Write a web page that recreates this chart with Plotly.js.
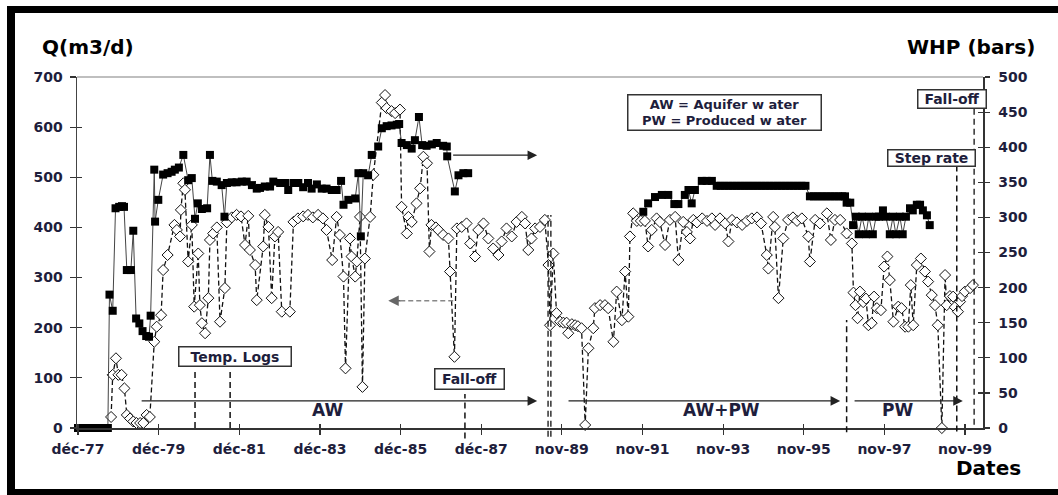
<!DOCTYPE html>
<html><head><meta charset="utf-8">
<script src="https://cdn.plot.ly/plotly-3.0.1.min.js"></script>
<style>
html,body{margin:0;padding:0;background:#fff;overflow:hidden;width:1058px;height:495px;}
#frame{position:absolute;left:7px;top:6px;right:0;bottom:0;border-style:solid;border-color:#000;border-width:7px 0 6px 8px;box-sizing:border-box;}
#chart{position:absolute;left:0;top:0;width:1058px;height:495px;}
</style></head><body>
<div id="frame"></div><div id="chart"></div>
<script>
// ---- tick labels (dates axis) ----
const tickLabels = ['déc-77','déc-79','déc-81','déc-83','déc-85','déc-87','nov-89','nov-91','nov-93','nov-95','nov-97','nov-99'];
const tickStartYear = 1977.92;          // 3 Dec 1977
const tickStepYears = 730 / 365.25;     // 730-day major unit

// ---- WHP (bars), filled squares, right axis ----
const whpYears = [1977.92,1978.00,1978.08,1978.17,1978.25,1978.33,1978.42,1978.50,1978.58,1978.66,
 1978.70,1978.78,1978.85,1978.94,1979.01,1979.06,1979.13,1979.23,1979.29,1979.36,1979.44,1979.52,1979.61,1979.68,1979.72,
 1979.81,1979.83,1979.91,1980.03,1980.14,1980.24,1980.32,1980.42,1980.53,1980.65,1980.74,1980.82,1980.89,1980.99,1981.12,
 1981.19,1981.25,1981.36,1981.48,1981.55,1981.61,1981.73,1981.85,1981.98,1982.10,1982.23,1982.35,1982.43,1982.55,1982.68,
 1982.76,1982.93,1983.05,1983.13,1983.26,1983.38,1983.50,1983.62,1983.71,1983.84,1983.96,1984.08,1984.21,1984.33,1984.44,
 1984.50,1984.62,1984.79,1984.87,1984.93,1984.99,1985.11,1985.20,1985.36,1985.45,1985.57,1985.69,1985.82,1985.88,1985.94,
 1986.07,1986.19,1986.27,1986.37,1986.45,1986.56,1986.69,1986.81,1986.97,1987.06,1987.07,1987.26,1987.35,1987.47,1987.59,
 1989.50,
 1991.93,1992.05,1992.22,1992.39,1992.55,1992.70,1992.80,1992.96,1993.05,1993.13,1993.21,1993.38,1993.50,1993.63,1993.75,
 1993.85,1993.95,1994.05,1994.15,1994.25,1994.35,1994.45,1994.55,1994.65,1994.75,1994.85,1994.95,1995.05,1995.15,1995.25,
 1995.35,1995.45,1995.55,1995.65,1995.75,1995.85,1995.95,
 1996.06,1996.16,1996.26,1996.36,1996.46,1996.56,1996.66,1996.76,1996.86,1996.93,1996.97,1997.06,1997.13,
 1997.20,1997.27,1997.35,1997.45,1997.52,1997.62,1997.70,1997.77,1997.87,1997.94,1998.04,1998.12,1998.19,1998.29,1998.36,
 1998.44,1998.54,1998.61,1998.71,1998.79,1998.86,1998.96,1999.03];
const whpBars = [0,0,0,0,0,0,0,0,0,0,
 190,167,313,315,316,315,225,225,281,156,149,138,131,130,160,
 368,294,325,361,363,365,368,371,389,353,356,298,320,312,313,
 389,352,351,346,301,349,350,350,351,351,346,341,342,344,344,
 351,349,349,339,349,349,343,349,341,347,341,341,339,339,352,
 318,325,327,363,273,363,360,389,401,427,430,431,432,433,406,
 403,398,410,443,403,402,404,406,402,401,387,337,360,363,363,
 null,
 308,320,329,332,332,319,319,332,339,320,339,352,352,352,345,
 345,345,345,345,345,345,345,345,345,345,345,345,345,345,345,
 345,345,345,345,345,345,345,
 330,330,330,330,330,330,330,330,330,330,321,321,289,
 301,276,301,276,301,276,301,301,310,301,276,301,276,301,276,
 301,313,310,318,318,310,303,289];

// ---- Q (m3/d), open diamonds, left axis ----
const qYears = [1978.74,1978.78,1978.86,1978.92,1979.00,1979.07,1979.13,1979.21,1979.29,1979.37,1979.46,1979.54,1979.62,1979.70,
 1979.81,1979.87,1979.98,1980.03,1980.14,1980.31,1980.37,1980.45,1980.47,1980.53,1980.57,1980.65,1980.74,1980.80,1980.90,
 1980.94,1980.99,1981.07,1981.15,1981.19,1981.27,1981.36,1981.44,1981.56,1981.61,1981.73,1981.85,1981.96,1982.06,1982.14,
 1982.18,1982.31,1982.35,1982.51,1982.55,1982.64,1982.72,1982.80,1982.88,1982.97,1983.17,1983.26,1983.37,1983.50,1983.62,
 1983.74,1983.87,1983.99,1984.08,1984.22,1984.33,1984.41,1984.50,1984.55,1984.66,1984.70,1984.79,1984.83,1984.91,1984.97,
 1985.03,1985.16,1985.24,1985.45,1985.53,1985.57,1985.69,1985.78,1985.90,1985.94,1986.07,1986.11,1986.19,1986.31,1986.40,
 1986.48,1986.57,1986.63,1986.68,1986.79,1986.85,1986.97,1987.10,1987.14,1987.25,1987.31,1987.43,1987.55,1987.64,1987.76,
 1987.84,1987.97,1988.09,1988.21,1988.34,1988.42,1988.54,1988.67,1988.79,1988.92,1989.00,1989.08,1989.16,1989.25,1989.37,
 1989.49,1989.58,1989.62,1989.70,1989.78,1989.87,1989.95,1990.03,1990.07,1990.16,1990.24,1990.31,1990.40,1990.49,1990.57,
 1990.69,1990.73,1990.86,1990.98,1991.06,1991.19,1991.27,1991.40,1991.48,1991.56,1991.60,1991.68,1991.77,1991.87,1991.97,
 1992.05,1992.14,1992.26,1992.34,1992.47,1992.59,1992.72,1992.80,1992.92,1993.01,1993.09,1993.17,1993.26,1993.39,1993.51,
 1993.63,1993.71,1993.83,1993.96,1994.04,1994.13,1994.25,1994.38,1994.50,1994.62,1994.75,1994.85,1994.99,1995.03,1995.15,
 1995.19,1995.28,1995.40,1995.52,1995.64,1995.74,1995.86,1996.02,1996.06,1996.19,1996.31,1996.48,1996.58,1996.68,1996.81,
 1996.97,1997.10,1997.14,1997.19,1997.24,1997.30,1997.38,1997.45,1997.51,1997.59,1997.65,1997.72,1997.82,1997.90,1997.98,
 1998.04,1998.13,1998.25,1998.33,1998.42,1998.50,1998.56,1998.62,1998.71,1998.81,1998.91,1998.99,1999.08,1999.16,1999.23,
 1999.33,1999.41,1999.45,1999.53,1999.61,1999.65,1999.73,1999.78,1999.83,1999.90,2000.03,2000.10];
const qRates = [22,106,139,106,106,79,26,19,13,10,10,10,26,22,
 172,202,225,315,345,405,395,382,435,488,475,332,405,242,348,
 245,209,189,259,375,388,400,212,279,410,420,425,422,365,423,
 355,325,255,362,425,401,259,382,391,232,232,411,418,422,425,
 420,425,418,395,335,421,385,302,119,378,342,302,332,421,82,
 338,421,505,649,664,638,632,628,635,441,388,421,411,448,478,
 541,528,352,405,400,395,385,378,312,142,398,401,408,368,342,
 395,408,378,358,345,372,398,382,411,421,408,355,378,398,401,
 415,325,205,348,229,212,210,210,189,207,205,203,199,6,159,
 199,239,245,245,239,172,272,215,312,222,382,428,413,413,413,
 362,395,418,411,365,415,421,335,411,391,378,415,410,418,413,
 418,405,418,408,372,415,410,405,413,418,420,408,345,318,421,
 401,259,378,415,420,413,418,382,332,415,408,428,375,415,415,
 388,368,270,245,219,272,251,258,205,209,262,239,235,322,342,
 295,212,242,239,202,202,285,205,325,338,312,292,265,245,205,
 0,305,245,263,262,241,232,252,263,272,279,285];

const FONT = 'DejaVu Sans';
const INK = '#1e1e3c';
const tickVals = tickLabels.map((_, i) => tickStartYear + i * tickStepYears);
const xRange = [1977.895, 2000.35];

const traces = [
  {x: qYears, y: qRates, xaxis: 'x', yaxis: 'y', type: 'scatter', mode: 'lines+markers', cliponaxis: false,
   line: {color: '#111', width: 1.3, dash: '5px,3px'},
   marker: {symbol: 'diamond', size: 8.5, color: '#fff', line: {color: '#111', width: 1}}, hoverinfo: 'skip'},
  {x: whpYears, y: whpBars, xaxis: 'x', yaxis: 'y2', type: 'scatter', mode: 'lines+markers', cliponaxis: false,
   connectgaps: false,
   line: {color: '#444', width: 1},
   marker: {symbol: 'square', size: 8, color: '#000', line: {width: 0}}, hoverinfo: 'skip'},
  {x: [], y: [], xaxis: 'x2', yaxis: 'y', type: 'scatter', hoverinfo: 'skip'},
  {x: [], y: [], xaxis: 'x', yaxis: 'y3', type: 'scatter', hoverinfo: 'skip'},
  {x: [], y: [], xaxis: 'x', yaxis: 'y4', type: 'scatter', hoverinfo: 'skip'}
];

const tickFont = {family: FONT, size: 14, color: INK, weight: 'bold'};
const layout = {
  width: 1058, height: 495,
  margin: {l: 77, r: 75, t: 77, b: 67, pad: 0},
  paper_bgcolor: 'rgba(0,0,0,0)', plot_bgcolor: '#fff',
  showlegend: false,
  xaxis: {range: xRange, tickmode: 'array', tickvals: tickVals, ticktext: tickLabels,
    ticks: 'outside', ticklen: 5, tickwidth: 1.2, tickcolor: '#333', ticklabelstandoff: 3,
    showline: true, linecolor: '#333', linewidth: 1.5, showgrid: false, zeroline: false, tickfont: tickFont},
  xaxis2: {range: xRange, overlaying: 'x', anchor: 'y', tickmode: 'array', tickvals: tickVals,
    ticks: 'inside', ticklen: 4, tickwidth: 1.2, tickcolor: '#333', showticklabels: false,
    showline: false, showgrid: false, zeroline: false},
  yaxis: {range: [0, 700], dtick: 100, ticks: 'outside', ticklen: 6, tickwidth: 1.2, tickcolor: '#333',
    ticklabelstandoff: 4, showline: true, linecolor: '#444', linewidth: 1.5, showgrid: false, zeroline: false,
    tickfont: tickFont},
  yaxis2: {range: [0, 500], dtick: 50, overlaying: 'y', side: 'right', anchor: 'x',
    ticks: 'outside', ticklen: 5, tickwidth: 1.2, tickcolor: '#333', ticklabelstandoff: 6,
    showline: true, linecolor: '#333', linewidth: 1.5, showgrid: false, zeroline: false, tickfont: tickFont},
  yaxis3: {range: [0, 700], dtick: 100, overlaying: 'y', side: 'left', anchor: 'x',
    ticks: 'inside', ticklen: 5, tickwidth: 1.2, tickcolor: '#333', showticklabels: false,
    showline: false, showgrid: false, zeroline: false},
  yaxis4: {range: [0, 500], dtick: 50, overlaying: 'y', side: 'right', anchor: 'x',
    ticks: 'inside', ticklen: 5, tickwidth: 1.2, tickcolor: '#333', showticklabels: false,
    showline: false, showgrid: false, zeroline: false},
  shapes: [
    {type: 'line', xref: 'paper', yref: 'paper', x0: 0, x1: 1, y0: 1, y1: 1, line: {color: '#aaa', width: 1.5}},
    // event markers (dashed verticals)
    {type: 'line', xref: 'x', yref: 'paper', x0: 1980.82, x1: 1980.82, y0: 0, y1: 0.165, line: {color: '#111', width: 1.5, dash: '6px,4px'}},
    {type: 'line', xref: 'x', yref: 'paper', x0: 1981.69, x1: 1981.69, y0: 0, y1: 0.165, line: {color: '#111', width: 1.5, dash: '6px,4px'}},
    {type: 'line', xref: 'x', yref: 'paper', x0: 1987.51, x1: 1987.51, y0: -0.03, y1: 0.097, line: {color: '#111', width: 1.5, dash: '6px,4px'}},
    {type: 'line', xref: 'x', yref: 'paper', x0: 1989.57, x1: 1989.57, y0: -0.025, y1: 0.607, line: {color: '#111', width: 1.3, dash: '6px,4px'}},
    {type: 'line', xref: 'x', yref: 'paper', x0: 1989.64, x1: 1989.64, y0: -0.025, y1: 0.607, line: {color: '#111', width: 1.3, dash: '6px,4px'}},
    {type: 'line', xref: 'x', yref: 'paper', x0: 1996.97, x1: 1996.97, y0: -0.012, y1: 0.308, line: {color: '#111', width: 1.5, dash: '6px,4px'}},
    {type: 'line', xref: 'x', yref: 'paper', x0: 1999.70, x1: 1999.70, y0: -0.01, y1: 0.744, line: {color: '#111', width: 1.5, dash: '6px,4px'}},
    {type: 'line', xref: 'x', yref: 'paper', x0: 2000.13, x1: 2000.13, y0: 0.009, y1: 0.909, line: {color: '#111', width: 1.3, dash: '6px,4px'}},
    // dashed arrow shaft for Q series
    {type: 'line', xref: 'x', yref: 'y', x0: 1987.22, x1: 1985.85, y0: 254, y1: 254, line: {color: '#888', width: 1.5, dash: '5px,3px'}}
  ],
  annotations: []
};

const A = layout.annotations;
const boxFont = {family: FONT, size: 14, color: INK, weight: 'bold'};
// period arrows
[[1979.46, 1989.30], [1990.04, 1996.81], [1997.13, 1999.85]].forEach(([t, h]) => {
  A.push({xref: 'x', yref: 'y', axref: 'x', ayref: 'y', x: h, y: 54, ax: t, ay: 54, text: '', showarrow: true,
    arrowhead: 2, arrowsize: 1.6, arrowwidth: 1.2, arrowcolor: '#222'});
});
// series arrows
A.push({xref: 'x', yref: 'y', axref: 'x', ayref: 'y', x: 1989.30, y: 544, ax: 1987.18, ay: 544, text: '', showarrow: true,
  arrowhead: 2, arrowsize: 1.6, arrowwidth: 1.2, arrowcolor: '#222'});
A.push({xref: 'x', yref: 'y', axref: 'x', ayref: 'y', x: 1985.61, y: 254, ax: 1985.95, ay: 254, text: '', showarrow: true,
  arrowhead: 2, arrowsize: 1.4, arrowwidth: 1.5, arrowcolor: '#666'});
// period labels
A.push({xref: 'x', yref: 'y', x: 1984.10, y: 36, text: 'AW', showarrow: false, font: {family: FONT, size: 17, color: INK, weight: 'bold'}});
A.push({xref: 'x', yref: 'y', x: 1993.88, y: 36, text: 'AW+PW', showarrow: false, font: {family: FONT, size: 17, color: INK, weight: 'bold'}});
A.push({xref: 'x', yref: 'y', x: 1998.24, y: 36, text: 'PW', showarrow: false, font: {family: FONT, size: 17, color: INK, weight: 'bold'}});
// boxed labels
const box = (x, y, text, w, h) => ({xref: 'x', yref: 'y', x, y, text, showarrow: false, font: boxFont,
  bordercolor: '#333', borderwidth: 1.5, borderpad: 0, bgcolor: '#fff', width: w, height: h});
A.push(box(1981.81, 143, 'Temp. Logs', 111, 18));
A.push(box(1987.62, 98, 'Fall-off', 68, 19));
A.push(box(1999.07, 538, 'Step rate', 86, 15));
A.push(box(1999.58, 656, 'Fall-off', 67, 17));
A.push({xref: 'x', yref: 'y', x: 1993.94, y: 629, text: 'AW = Aquifer w ater<br>PW = Produced w ater', showarrow: false,
  font: {family: FONT, size: 13, color: INK, weight: 'bold'}, bordercolor: '#333', borderwidth: 1.5, borderpad: 0,
  bgcolor: '#fff', width: 192, height: 34});
// axis titles
A.push({xref: 'paper', yref: 'paper', x: -0.0408, y: 1.0855, xanchor: 'left', yanchor: 'middle', text: 'Q(m3/d)',
  showarrow: false, font: {family: FONT, size: 20, color: '#000', weight: 'bold'}});
A.push({xref: 'paper', yref: 'paper', x: 1.0596, y: 1.0855, xanchor: 'right', yanchor: 'middle', text: 'WHP (bars)',
  showarrow: false, font: {family: FONT, size: 20, color: '#000', weight: 'bold'}});
A.push({xref: 'paper', yref: 'paper', x: 1.0442, y: -0.114, xanchor: 'right', yanchor: 'middle', text: 'Dates',
  showarrow: false, font: {family: FONT, size: 20, color: '#000', weight: 'bold'}});

Plotly.newPlot('chart', traces, layout, {staticPlot: true, displayModeBar: false});
</script>
</body></html>
